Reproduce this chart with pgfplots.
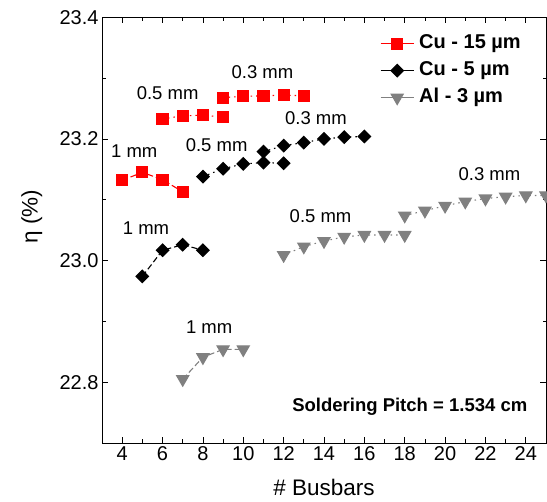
\documentclass[border=0pt]{standalone}
\usepackage{fontspec}
\setmainfont{Liberation Sans}
\usepackage{pgfplots}
\pgfplotsset{compat=1.18}
\definecolor{myred}{RGB}{255,0,0}
\definecolor{mygray}{RGB}{128,128,128}
\begin{document}
\begin{tikzpicture}
\begin{axis}[
  at={(102bp,59bp)}, anchor=south west,
  scale only axis, width=444bp, height=425.7bp,
  xmin=3, xmax=25, ymin=22.7, ymax=23.4,
  xtick={4,6,...,24}, ytick={22.8,23.0,23.2,23.4},
  minor x tick num=1, minor y tick num=1,
  tick align=inside, major tick length=6bp, minor tick length=3.5bp,
  tick style={black, line width=0.8bp},
  axis line style={line width=1bp},
  /pgf/number format/assume math mode=true,
  y tick label style={/pgf/number format/.cd, fixed, fixed zerofill, precision=1, /tikz/.cd},
  tick label style={font=\fontsize{20bp}{24bp}\selectfont},
  xlabel={\# Busbars}, ylabel={η (\%)},
  label style={font=\fontsize{22.5bp}{27bp}\selectfont},
  xlabel style={at={(axis description cs:0.5,-0.123)}, anchor=base},
  ylabel style={at={(axis description cs:-0.158,0.532)}, anchor=center},
  legend style={draw=none, fill=none, inner sep=0pt, at={(rel axis cs:0.626,0.967)}, anchor=north west,
    font=\bfseries\fontsize{20bp}{24bp}\selectfont, row sep=3bp, column sep=3bp,
    nodes={inner sep=2bp, text height=15bp, text depth=5bp}},
  legend cell align=left,
  legend image code/.code={\draw[mark repeat=2,mark phase=2,solid] plot coordinates {(0bp,0bp) (16.5bp,0bp) (33bp,0bp)};},
  redm/.style={color=myred, line width=1.1bp, mark=square*, mark size=5.5bp, mark options={solid, fill=myred}},
  blkm/.style={color=black, line width=1.1bp, mark=square*, mark size=4.4bp, mark options={solid, rotate=45, fill=black}},
  grym/.style={color=mygray, line width=1.1bp, mark=triangle*, mark size=7bp, mark options={solid, rotate=180, fill=mygray}},
  mm1/.style={dash pattern=on 6bp off 3bp},
  mmd/.style={dash pattern=on 1.5bp off 4bp},
]
% Cu 15 um
\addplot[redm, mm1] coordinates {(4,23.132)(5,23.145)(6,23.133)(7,23.113)};
\addlegendentry{Cu - 15 µm}
% Cu 5 um
\addplot[blkm, mm1] coordinates {(5,22.974)(6,23.017)(7,23.026)(8,23.017)};
\addlegendentry{Cu - 5 µm}
% Al 3 um
\addplot[grym, mm1] coordinates {(7,22.805)(8,22.841)(9,22.854)(10,22.854)};
\addlegendentry{Al - 3 µm}

\addplot[redm, mmd, forget plot] coordinates {(6,23.233)(7,23.238)(8,23.239)(9,23.236)};
\addplot[redm, mmd, forget plot] coordinates {(9,23.268)(10,23.270)(11,23.271)(12,23.272)(13,23.271)};
\addplot[blkm, mmd, forget plot] coordinates {(8,23.138)(9,23.151)(10,23.159)(11,23.161)(12,23.160)};
\addplot[blkm, mmd, forget plot] coordinates {(11,23.179)(12,23.189)(13,23.194)(14,23.200)(15,23.203)(16,23.204)};
\addplot[grym, mmd, forget plot] coordinates {(12,23.009)(13,23.023)(14,23.032)(15,23.039)(16,23.042)(17,23.042)(18,23.042)};
\addplot[grym, mmd, forget plot] coordinates {(18,23.074)(19,23.082)(20,23.090)(21,23.097)(22,23.102)(23,23.105)(24,23.107)(25,23.107)};

\begin{scope}[every node/.style={font=\fontsize{18.5bp}{22bp}\selectfont, inner sep=0pt}]
\node at (axis cs:4.6,23.18) {1 mm};
\node at (axis cs:6.25,23.276) {0.5 mm};
\node at (axis cs:10.95,23.31) {0.3 mm};
\node at (axis cs:5.18,23.054) {1 mm};
\node at (axis cs:8.68,23.189) {0.5 mm};
\node at (axis cs:13.6,23.235) {0.3 mm};
\node at (axis cs:8.31,22.891) {1 mm};
\node at (axis cs:13.83,23.073) {0.5 mm};
\node at (axis cs:22.2,23.142) {0.3 mm};
\node[font=\bfseries\fontsize{18.5bp}{22bp}\selectfont] at (axis cs:18.25,22.76) {Soldering Pitch = 1.534 cm};
\end{scope}
\end{axis}
\pgfresetboundingbox
\useasboundingbox (0bp,0bp) rectangle (547bp,502bp);
\end{tikzpicture}
\end{document}
